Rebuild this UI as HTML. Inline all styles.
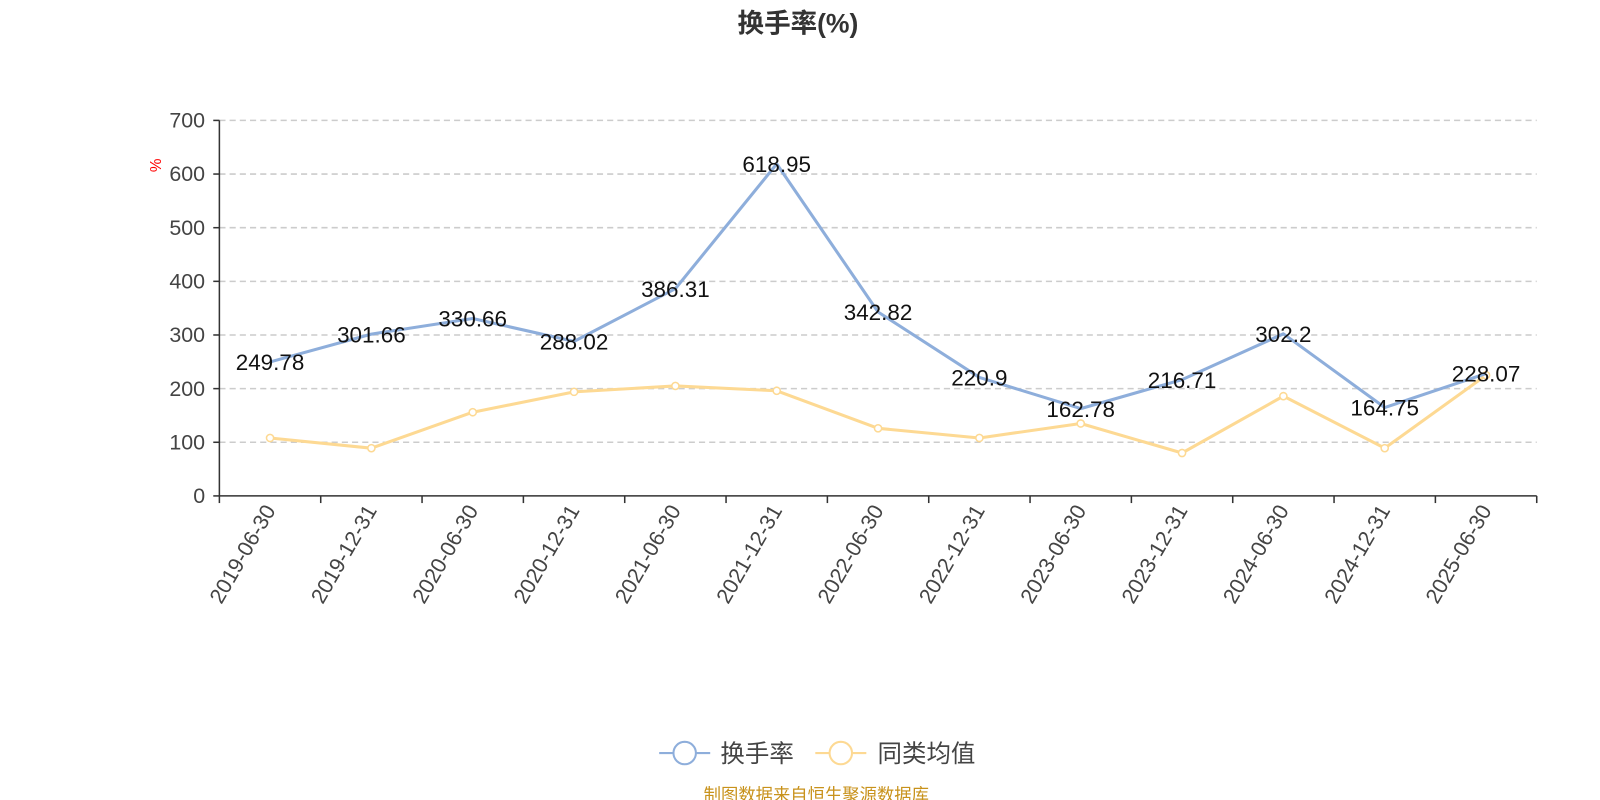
<!DOCTYPE html>
<html><head><meta charset="utf-8"><style>
body{margin:0;background:#fff;}
svg{display:block;font-family:"Liberation Sans","Noto Sans CJK SC",sans-serif;}
</style></head><body>
<svg id="c" width="1600" height="800" viewBox="0 0 1600 800">
<g transform="scale(1.0204)">
<text x="782" y="32" text-anchor="middle" font-size="26" font-weight="bold" fill="#333">换手率(%)</text>
<text x="158" y="162" font-size="15" fill="red" transform="rotate(-90 158 162)" text-anchor="middle">%</text>
<g id="grid"></g><g id="axes"></g><g id="series"></g>
<g>
<g>
<line x1="646" y1="738" x2="696" y2="738" stroke="#8eaedb" stroke-width="2"/><circle cx="671" cy="738" r="11" fill="#fff" stroke="#8eaedb" stroke-width="2"/>
<text x="706" y="747" font-size="24" fill="#444">换手率</text></g>
<g>
<line x1="799" y1="738" x2="849" y2="738" stroke="#fdd993" stroke-width="2"/><circle cx="824" cy="738" r="11" fill="#fff" stroke="#fdd993" stroke-width="2"/>
<text x="860" y="747" font-size="24" fill="#444">同类均值</text></g>
</g>
<text x="800" y="785" text-anchor="middle" font-size="17" fill="#c8921b">制图数据来自恒生聚源数据库</text>
</g>
</svg>
<script>
const categories=["2019-06-30","2019-12-31","2020-06-30","2020-12-31","2021-06-30","2021-12-31","2022-06-30","2022-12-31","2023-06-30","2023-12-31","2024-06-30","2024-12-31","2025-06-30"];
const turnover=[249.78,301.66,330.66,288.02,386.31,618.95,342.82,220.9,162.78,216.71,302.2,164.75,228.07];
const peerAvg=[108,89,156,194,205,196,126,108,135,80,186,89,225];
const yTicks=[0,100,200,300,400,500,600,700];
const NS="http://www.w3.org/2000/svg";
const X0=215,X1=1506,Y0=486,Y1=118,YMAX=700;
const bw=(X1-X0)/categories.length;
const xs=i=>X0+bw*(i+0.5);
const ys=v=>Y0-(v/YMAX)*(Y0-Y1);
function mk(p,t,a){const e=document.createElementNS(NS,t);for(const k in a)e.setAttribute(k,a[k]);p.appendChild(e);return e;}
const grid=document.getElementById('grid'),axes=document.getElementById('axes'),ser=document.getElementById('series');
yTicks.forEach(v=>{
 if(v>0){const g=mk(grid,'line',{x1:X0,x2:X1,y1:ys(v),y2:ys(v),stroke:'#ccc','stroke-dasharray':'6,4','stroke-width':1.5});
 
 }
 const t=mk(axes,'text',{x:X0-14,y:ys(v)+7,'text-anchor':'end','font-size':21,fill:'#444'});t.textContent=v;
 
 
 mk(axes,'line',{x1:X0-6,x2:X0,y1:ys(v),y2:ys(v),stroke:'#333','stroke-width':1.5});
});
const ya=mk(axes,'line',{x1:X0,x2:X0,y1:Y1,y2:Y0,stroke:'#333','stroke-width':1.5});


const xa=mk(axes,'line',{x1:X0,x2:X1,y1:Y0,y2:Y0,stroke:'#333','stroke-width':1.5});


for(let i=0;i<=categories.length;i++)mk(axes,'line',{x1:X0+bw*i,x2:X0+bw*i,y1:Y0,y2:Y0+7,stroke:'#333','stroke-width':1.5});
categories.forEach((c,i)=>{const x=xs(i)+6,y=Y0+14;
 const t=mk(axes,'text',{x:x,y:y,'text-anchor':'end','font-size':21,fill:'#444',transform:`rotate(-60 ${x} ${y})`});t.textContent=c;
 
 });
function line(data,color,name,markers){
 const p=mk(ser,'polyline',{points:data.map((v,i)=>xs(i)+','+ys(v)).join(' '),fill:'none',stroke:color,'stroke-width':3,'stroke-linejoin':'round'});
 
 
 if(markers)data.forEach((v,i)=>{const c=mk(ser,'circle',{cx:xs(i),cy:ys(v),r:3.5,fill:'#fff',stroke:color,'stroke-width':1.5});
  
  });
}
line(peerAvg,'#fdd993','peer-average',true);
line(turnover,'#8eaedb','turnover',false);
turnover.forEach((v,i)=>{const t=mk(ser,'text',{x:xs(i),y:ys(v)+8,'text-anchor':'middle','font-size':22,fill:'#111'});t.textContent=v;
 
 });
</script>
</body></html>
